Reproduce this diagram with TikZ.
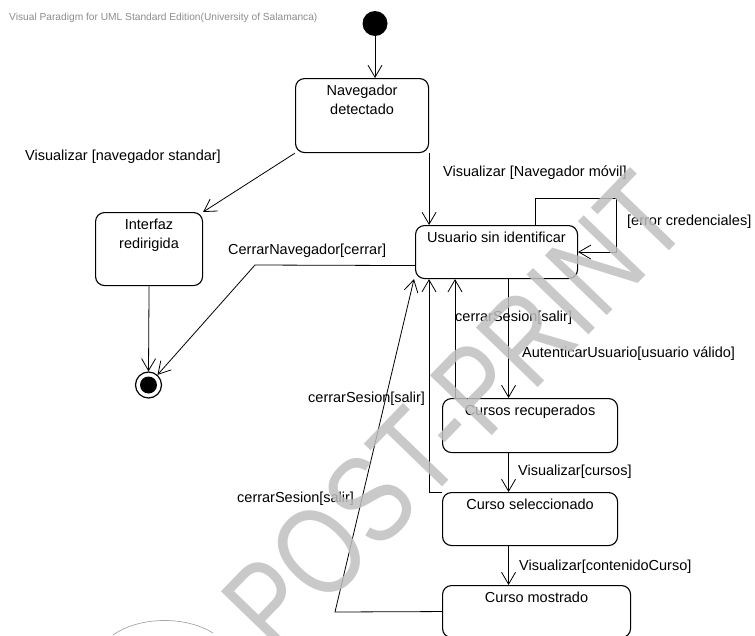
\documentclass[tikz,border=0pt]{standalone}
\usepackage{fontspec}
\setmainfont{Liberation Sans}
\newfontfamily\wmfont{Liberation Sans}[FakeStretch=0.8]
\usetikzlibrary{arrows.meta}

\newcommand{\statefont}{\fontsize{14.5}{19}\selectfont}
\newcommand{\stlabel}[3]{\parbox[c][#2][t]{#1}{\centering\rule{0pt}{16.5pt}#3}}

\tikzset{
  state/.style={draw, rounded corners=9pt, line width=1.1pt, inner sep=0pt, anchor=north west, font=\statefont},
  trans/.style={line width=0.8pt, -{Straight Barb[length=12pt,width=14pt]}},
  lbl/.style={inner sep=0pt, anchor=base west, font=\statefont},
}

\begin{document}
\begin{tikzpicture}[x=1pt,y=-1pt]
\useasboundingbox (0,0) rectangle (755,635);
\node[anchor=base west, inner sep=0pt, font=\fontsize{10.2}{12}\selectfont, text=black!45] (hdr) at (9,20) {Visual Paradigm for UML Standard Edition(University of Salamanca)};

% states
\node[circle, fill, inner sep=0pt, minimum size=25pt] (ini) at (375,23.5) {};
\node[state] (nav) at (295,78) {\stlabel{133pt}{74pt}{Navegador\\detectado}};
\node[state] (intf) at (95,212) {\stlabel{107pt}{73pt}{Interfaz\\redirigida}};
\node[state] (usr) at (415,225) {\stlabel{162pt}{53pt}{Usuario sin identificar}};
\node[state] (rec) at (442,398) {\stlabel{175pt}{54pt}{Cursos recuperados}};
\node[state] (sel) at (442,492) {\stlabel{175pt}{53pt}{Curso seleccionado}};
\node[state] (most) at (442,585) {\stlabel{188pt}{52pt}{Curso mostrado}};
\node[circle, draw, line width=1.2pt, inner sep=0pt, minimum size=26pt,
  path picture={\fill (path picture bounding box.center) circle (8.5pt);}] (fin) at (148.5,385) {};

% transitions
\coordinate (cbend) at (255,265);
\coordinate (mbend) at (335,612);
\draw[trans] (ini.south) -- (ini.south |- nav.north);
\draw[trans] (nav.south west) -- (intf.north east);
\draw[trans] (nav.south east) -- (nav.south east |- usr.north);
\draw[trans] ([xshift=39pt]usr.north) -- ++(0,-27) -- ++(81,0) |- (usr.east);
\draw[trans] ([yshift=-13.5pt]usr.west) -- (cbend) -- (fin);
\draw[trans] (intf.south) -- (fin.north);
\draw[trans] ([xshift=12pt]usr.south) -- ([xshift=12pt]usr.south |- rec.north);
\draw[trans] ([xshift=13pt]rec.north west) -- ([xshift=13pt]rec.north west |- usr.south);
\draw[trans] (sel.north west) -| ([xshift=14pt]usr.south west);
\draw[trans] (most.west) -- (mbend) -- ([xshift=-1pt]usr.south west);
\draw[trans] ([xshift=-21.5pt]rec.south) -- ([xshift=-21.5pt]rec.south |- sel.north);
\draw[trans] ([xshift=-21.5pt]sel.south) -- ([xshift=-21.5pt]sel.south |- most.north);

% guards
\node[lbl] (l1) at (25,160) {Visualizar [navegador standar]};
\node[lbl] (l2) at (443,176) {Visualizar [Navegador móvil]};
\node[lbl] (l3) at (627,225) {[error credenciales]};
\node[lbl] (l4) at (228,254) {CerrarNavegador[cerrar]};
\node[lbl] (l5) at (455,321) {cerrarSesion[salir]};
\node[lbl] (l6) at (522,357) {AutenticarUsuario[usuario válido]};
\node[lbl] (l7) at (308,402) {cerrarSesion[salir]};
\node[lbl] (l8) at (237,502) {cerrarSesion[salir]};
\node[lbl] (l9) at (518,475) {Visualizar[cursos]};
\node[lbl] (l10) at (519,570) {Visualizar[contenidoCurso]};

% watermark
\draw[black!35, line width=0.7pt] (113,635) .. controls (140,616) and (186,616) .. (213,633);
\node[rotate=46, inner sep=0pt, text=black!25, text opacity=0.85, font=\wmfont\fontsize{125}{125}\selectfont] (wm) at (455,412) {POST-PRINT};
\end{tikzpicture}
\end{document}
